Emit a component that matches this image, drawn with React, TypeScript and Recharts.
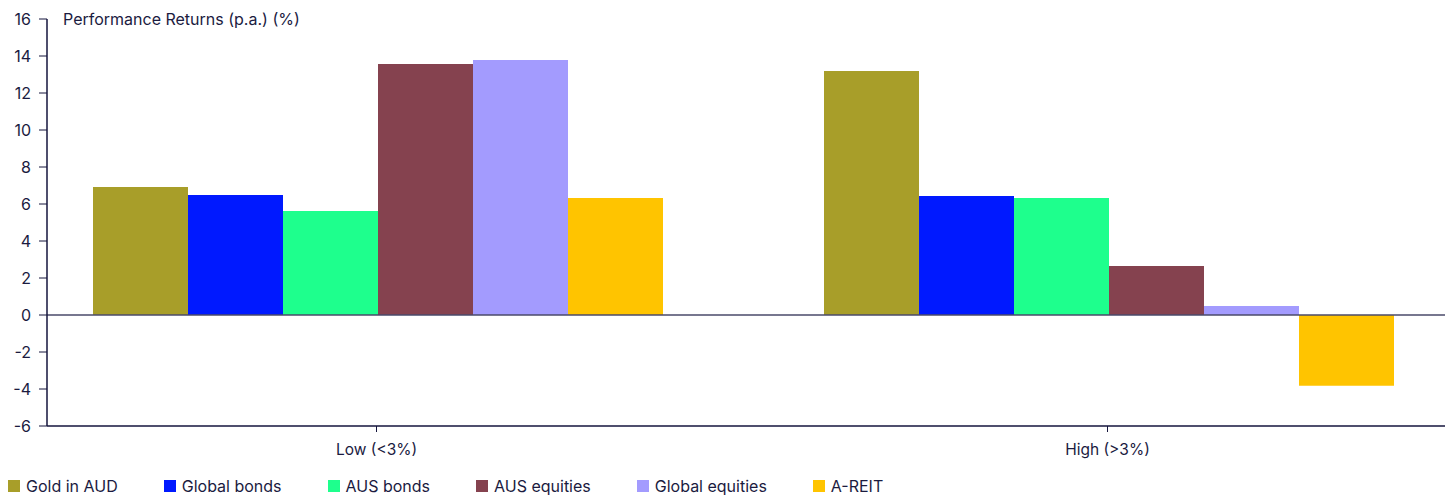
import React from "react";
import { BarChart, Bar, XAxis, YAxis, ReferenceLine, Legend } from "recharts";

const categories = ["Low (<3%)", "High (>3%)"];
const goldInAud = [6.92, 13.19];
const globalBonds = [6.49, 6.43];
const ausBonds = [5.62, 6.32];
const ausEquities = [13.57, 2.65];
const globalEquities = [13.78, 0.49];
const aReit = [6.32, -3.82];
const yTicks = [-6, -4, -2, 0, 2, 4, 6, 8, 10, 12, 14, 16];

const seriesDefs = [
  { key: "gold", name: "Gold in AUD", color: "#A89E29", values: goldInAud },
  { key: "gbonds", name: "Global bonds", color: "#0019FF", values: globalBonds },
  { key: "abonds", name: "AUS bonds", color: "#1EFF8D", values: ausBonds },
  { key: "aeq", name: "AUS equities", color: "#85424F", values: ausEquities },
  { key: "geq", name: "Global equities", color: "#A39BFE", values: globalEquities },
  { key: "areit", name: "A-REIT", color: "#FFC400", values: aReit },
];

const data = categories.map((c, i) => {
  const row: Record<string, string | number> = { category: c };
  seriesDefs.forEach((s) => (row[s.key] = s.values[i]));
  return row;
});

const TEXT = "#1B1B3F";
const FONT = "Inter, 'Noto Sans', sans-serif";

const LegendContent = () => (
  <div style={{ display: "flex", alignItems: "center", paddingTop: 10, fontFamily: FONT, fontSize: 16, color: TEXT }}>
    {seriesDefs.map((s) => (
      <div key={s.key} style={{ display: "flex", alignItems: "center", marginRight: 46 }}>
        <div style={{ width: 12, height: 12, background: s.color, marginRight: 6 }} />
        <span>{s.name}</span>
      </div>
    ))}
  </div>
);

export default function App() {
  return (
    <div style={{ width: 1445, height: 489, overflow: "hidden" }}>
      <BarChart
        width={1445}
        height={489}
        data={data}
        margin={{ top: 11, right: 0, bottom: 0, left: 0 }}
        barCategoryGap={82}
        barGap={0}
      >
        <XAxis
          dataKey="category"
          height={40}
          padding={{ left: -36, right: -20 }}
          stroke="#14143C"
          tickSize={6}
          tickMargin={12}
          tick={{ fill: TEXT, fontSize: 15.5, fontFamily: FONT }}
          tickLine={{ stroke: "#14143C" }}
          axisLine={{ stroke: "#14143C", strokeWidth: 1.5 }}
        />
        <YAxis
          width={39}
          domain={[-6, 16]}
          ticks={yTicks}
          interval={0}
          tickSize={8}
          tickMargin={8}
          stroke="#14143C"
          tick={{ fill: TEXT, fontSize: 16, fontFamily: FONT }}
          axisLine={{ stroke: "#14143C", strokeWidth: 1.5 }}
          label={{
            content: (props: any) => {
              const vb = props.viewBox || {};
              return (
                <text
                  x={(vb.x || 0) + (vb.width || 0) + 16}
                  y={(vb.y || 0)}
                  dominantBaseline="central"
                  fill={TEXT}
                  fontSize={16}
                  fontFamily={FONT}
                >
                  Performance Returns (p.a.) (%)
                </text>
              );
            },
          }}
        />
        <Legend verticalAlign="bottom" align="left" height={31} content={() => <LegendContent />} />
        {seriesDefs.map((s) => (
          <Bar key={s.key} dataKey={s.key} name={s.name} fill={s.color} isAnimationActive={false} />
        ))}
        <ReferenceLine y={0} stroke="#4A4A6A" strokeWidth={1.5} />
      </BarChart>
    </div>
  );
}
